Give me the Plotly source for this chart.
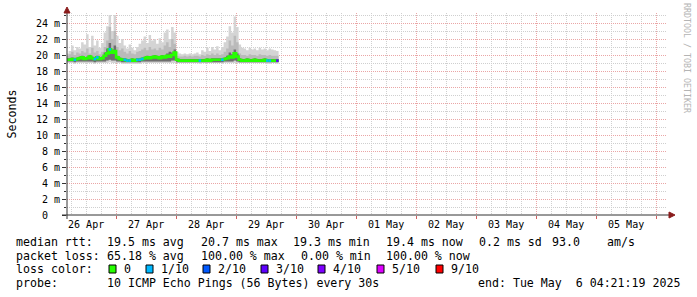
import pandas as pd
import plotly.graph_objects as go

# ---------------- data (hourly consolidated, ms) ----------------
START = "2025-04-26 04:00"
RANGE_START = "2025-04-26 04:21:19"
RANGE_END = "2025-05-06 04:21:19"

median_ms = [19.4, 19.4, 19.5, 19.4, 19.5, 19.6, 19.7, 19.5, 19.6, 19.8, 19.6, 19.5, 19.7, 19.5, 19.6,
             19.9, 20.2, 20.7, 20.3, 20.5,
             19.7, 19.5, 19.4, 19.4, 19.3, 19.3, 19.4, 19.3, 19.4, 19.4, 19.5,
             19.6, 19.7, 19.6, 19.7, 19.8, 19.7, 19.6, 19.8, 19.7, 19.9, 19.8, 20.0, 20.3,
             19.4, 19.3, 19.3, 19.3, 19.3, 19.3, 19.3, 19.3, 19.3, 19.3, 19.3, 19.3, 19.4, 19.3, 19.4, 19.4, 19.4, 19.4, 19.4, 19.5,
             19.6, 19.8, 19.7, 20.2, 19.8,
             19.4, 19.3, 19.3, 19.4, 19.3, 19.3, 19.4, 19.3, 19.3, 19.3, 19.4, 19.3, 19.3, 19.3, 19.3, 19.3]

loss = [0, 0, 0, 1, 0, 0, 0, 0, 0, 0, 0, 1, 1, 0, 0,
        0, 0, 1, 0, 0,
        0, 0, 0, 1, 1, 1, 0, 0, 1, 1, 1,
        0, 0, 0, 0, 0, 0, 0, 0, 0, 0, 0, 0, 0,
        0, 0, 0, 0, 0, 0, 0, 0, 0, 1, 0, 0, 0, 0, 0, 0, 0, 0, 1, 0,
        0, 0, 0, 0, 0,
        0, 0, 0, 0, 0, 0, 0, 0, 0, 0, 0, 1, 1, 0, 0, 3]

smoke_max = [20.2, 20.5, 21.2, 20.6, 21.0, 20.8, 21.6, 21.3, 22.6, 21.0, 22.4, 21.2, 21.8, 20.9, 21.5,
             22.8, 23.6, 25.0, 23.0, 25.0,
             22.4, 21.5, 22.0, 21.2, 20.8, 21.3, 20.9, 20.6, 21.0, 21.4, 21.8,
             22.3, 21.5, 22.5, 21.8, 22.0, 21.4, 22.1, 21.6, 22.8, 23.2, 22.0, 23.5, 22.8,
             20.4, 20.2, 20.1, 20.2, 20.1, 20.2, 20.1, 20.2, 20.3, 20.1, 20.6, 20.4, 20.9, 20.5, 21.0, 20.7, 21.1, 20.6, 21.0, 21.6,
             22.3, 23.6, 22.8, 24.8, 23.5,
             21.3, 20.9, 20.8, 20.6, 20.9, 20.7, 20.8, 20.6, 20.9, 20.7, 20.8, 20.6, 20.8, 20.7, 20.6, 20.5]

smoke_q3 = [19.9, 20.1, 20.4, 20.0, 20.3, 20.2, 20.5, 20.3, 20.8, 20.2, 20.9, 20.3, 20.5, 20.1, 20.4,
            21.0, 21.8, 23.5, 22.0, 23.0,
            21.0, 20.6, 20.8, 20.4, 20.2, 20.5, 20.2, 20.1, 20.4, 20.5, 20.7,
            20.9, 20.6, 21.0, 20.7, 20.8, 20.6, 20.9, 20.7, 21.2, 21.6, 21.0, 22.0, 21.4,
            19.9, 19.8, 19.8, 19.9, 19.8, 19.9, 19.8, 19.9, 19.9, 19.8, 20.0, 19.9, 20.1, 20.0, 20.2, 20.0, 20.2, 20.0, 20.1, 20.4,
            20.8, 21.8, 21.2, 22.4, 21.6,
            20.2, 20.0, 20.0, 19.9, 20.1, 20.0, 20.0, 19.9, 20.1, 20.0, 20.0, 19.9, 20.0, 19.9, 19.9, 19.9]

smoke_core = [19.6, 19.6, 19.7, 19.6, 19.7, 19.8, 19.9, 19.7, 19.8, 20.0, 19.8, 19.7, 19.9, 19.7, 19.8,
              20.3, 20.8, 21.5, 20.7, 21.2,
              19.9, 19.7, 19.6, 19.6, 19.5, 19.5, 19.6, 19.5, 19.6, 19.6, 19.7,
              19.8, 19.9, 19.8, 19.9, 20.0, 19.9, 19.8, 20.0, 19.9, 20.2, 20.4, 20.3, 20.7,
              19.6, 19.5, 19.5, 19.5, 19.5, 19.5, 19.5, 19.5, 19.5, 19.5, 19.5, 19.5, 19.6, 19.5, 19.6, 19.6, 19.6, 19.6, 19.6, 19.7,
              19.9, 20.3, 20.1, 20.7, 20.2,
              19.6, 19.5, 19.5, 19.6, 19.5, 19.5, 19.6, 19.5, 19.5, 19.5, 19.6, 19.5, 19.5, 19.5, 19.5, 19.5]

smoke_q1 = [19.2, 19.2, 19.2, 19.1, 19.2, 19.2, 19.2, 19.2, 19.2, 19.2, 19.2, 19.1, 19.2, 19.2, 19.2,
            19.2, 19.3, 19.4, 19.3, 19.3,
            19.2, 19.2, 19.1, 19.1, 19.1, 19.1, 19.1, 19.1, 19.1, 19.1, 19.2,
            19.2, 19.2, 19.2, 19.2, 19.2, 19.2, 19.2, 19.2, 19.2, 19.2, 19.2, 19.3, 19.3,
            19.1, 19.1, 19.1, 19.1, 19.1, 19.1, 19.1, 19.1, 19.1, 19.1, 19.1, 19.1, 19.1, 19.1, 19.1, 19.1, 19.1, 19.1, 19.1, 19.2,
            19.2, 19.2, 19.2, 19.3, 19.2,
            19.1, 19.1, 19.1, 19.1, 19.1, 19.1, 19.1, 19.1, 19.1, 19.1, 19.1, 19.1, 19.1, 19.1, 19.1, 19.1]

smoke_min = [19.0, 19.0, 19.0, 18.9, 19.0, 19.0, 19.0, 19.0, 19.0, 19.0, 19.0, 18.9, 19.0, 19.0, 19.0,
             19.0, 19.0, 19.1, 19.0, 19.0,
             19.0, 19.0, 18.9, 18.9, 18.9, 18.9, 18.9, 18.9, 18.9, 18.9, 19.0,
             19.0, 19.0, 19.0, 19.0, 19.0, 19.0, 19.0, 19.0, 19.0, 19.0, 19.0, 19.0, 19.0,
             19.0, 19.0, 19.0, 19.0, 19.0, 19.0, 19.0, 19.0, 19.0, 18.9, 19.0, 19.0, 19.0, 19.0, 19.0, 19.0, 19.0, 19.0, 18.9, 19.0,
             19.0, 19.0, 19.0, 19.0, 19.0,
             19.0, 19.0, 19.0, 19.0, 19.0, 19.0, 19.0, 19.0, 19.0, 19.0, 19.0, 18.9, 18.9, 19.0, 19.0, 18.9]

y_tick_vals = [0, 2, 4, 6, 8, 10, 12, 14, 16, 18, 20, 22, 24]
y_tick_text = ["0\u00a0\u00a0", "2 m", "4 m", "6 m", "8 m", "10 m", "12 m", "14 m",
               "16 m", "18 m", "20 m", "22 m", "24 m"]

day_labels = ["26 Apr", "27 Apr", "28 Apr", "29 Apr", "30 Apr",
              "01 May", "02 May", "03 May", "04 May", "05 May"]
day_label_times = ["2025-04-26 12:00", "2025-04-27 12:00", "2025-04-28 12:00", "2025-04-29 12:00",
                   "2025-04-30 12:00", "2025-05-01 12:00", "2025-05-02 12:00", "2025-05-03 12:00",
                   "2025-05-04 12:00", "2025-05-05 12:00"]

loss_labels = ["0", "1/10", "2/10", "3/10", "4/10", "5/10", "9/10"]
loss_levels = [0, 1, 2, 3, 4, 5, 9]
loss_colors = ["#26ff00", "#00b8ff", "#0059ff", "#5e00ff", "#7e00ff", "#dd00ff", "#ff0000"]

legend_rtt = ["median rtt:", "19.5 ms avg", "20.7 ms max", "19.3 ms min", "19.4 ms now",
              "0.2 ms sd", "93.0", "am/s"]
legend_loss = ["packet loss:", "65.18 % avg", "100.00 % max", "0.00 % min", "100.00 % now"]
probe_text = ["probe:", "10 ICMP Echo Pings (56 Bytes) every 30s"]
end_text = "end: Tue May  6 04:21:19 2025"

# ---------------- geometry helpers (pixel -> paper) ----------------
W, H = 697, 297
L, R, T, B = 67, 30, 13, 82
PW, PH = W - L - R, H - T - B
MONO = "DejaVu Sans Mono"


def px(x):
    return (x - L) / PW


def py(y):
    return (H - B - y) / PH


times = list(pd.date_range(START, periods=len(median_ms), freq="h"))
edges = times + [times[-1] + pd.Timedelta(hours=1)]


def step(vals):
    return list(vals) + [vals[-1]]


fig = go.Figure()

bands = [(smoke_min, smoke_max, "#d4d4d4"),
         (smoke_q1, smoke_q3, "#bababa"),
         (smoke_q1, smoke_core, "#6e6e6e")]
for lo, hi, col in bands:
    fig.add_trace(go.Scatter(x=edges, y=step(lo), mode="lines", line=dict(width=0, shape="hv"),
                             hoverinfo="skip", showlegend=False))
    fig.add_trace(go.Scatter(x=edges, y=step(hi), mode="lines", line=dict(width=0, shape="hv"),
                             fill="tonexty", fillcolor=col, hoverinfo="skip", showlegend=False))

# median line (base colour = no loss)
fig.add_trace(go.Scatter(x=edges, y=step(median_ms), mode="lines",
                         line=dict(color=loss_colors[0], width=2.6, shape="hv"),
                         hoverinfo="skip", showlegend=False))
# loss coloured segments
for lvl, col in zip(loss_levels[1:], loss_colors[1:]):
    xs, ys = [], []
    for i, (m, l) in enumerate(zip(median_ms, loss)):
        if l == lvl:
            xs += [edges[i], edges[i + 1], None]
            ys += [m, m, None]
    if xs:
        fig.add_trace(go.Scatter(x=xs, y=ys, mode="lines", line=dict(color=col, width=2.6),
                                 hoverinfo="skip", showlegend=False))

# invisible trace for the label axis
fig.add_trace(go.Scatter(x=day_label_times, y=[0] * len(day_label_times), xaxis="x2",
                         mode="markers", marker=dict(opacity=0), hoverinfo="skip", showlegend=False))

MGRID = "#eaa6a6"
GRID = "#cfcfcf"

fig.update_layout(
    width=W, height=H,
    margin=dict(l=L, r=R, t=T, b=B, pad=0),
    paper_bgcolor="white", plot_bgcolor="white",
    showlegend=False,
    xaxis=dict(type="date", range=[RANGE_START, RANGE_END],
               showgrid=True, gridcolor=MGRID, griddash="1px,1px", gridwidth=1,
               tick0="2025-04-27", dtick=86400000, showticklabels=False,
               ticks="outside", ticklen=3, tickcolor="#d06060",
               zeroline=False, showline=False,
               minor=dict(tick0="2025-04-26", dtick=6 * 3600000, showgrid=True,
                          gridcolor=GRID, griddash="1px,1px", gridwidth=1)),
    xaxis2=dict(type="date", range=[RANGE_START, RANGE_END], overlaying="x", anchor="y",
                side="bottom", tickmode="array", tickvals=day_label_times, ticktext=day_labels,
                showgrid=False, zeroline=False, showline=False, ticks="",
                ticklabelstandoff=2,
                tickfont=dict(family=MONO, size=10, color="#000")),
    yaxis=dict(range=[0, 25.25], tickmode="array", tickvals=y_tick_vals, ticktext=y_tick_text,
               showgrid=True, gridcolor=MGRID, griddash="1px,1px", gridwidth=1,
               ticks="outside", ticklen=4, tickcolor="#333",
               zeroline=False, showline=False,
               tickfont=dict(family=MONO, size=10, color="#000"),
               minor=dict(dtick=1, showgrid=True, gridcolor=GRID, griddash="1px,1px",
                          ticks="outside", ticklen=2, tickcolor="#333")),
)

shapes = []
AX = "#333333"
ARROW = "#8a1c1c"
shapes.append(dict(type="line", xref="paper", yref="paper", x0=px(62), x1=px(670), y0=py(215), y1=py(215),
                   line=dict(color=AX, width=1)))
shapes.append(dict(type="line", xref="paper", yref="paper", x0=px(67), x1=px(67), y0=py(219), y1=py(12),
                   line=dict(color=AX, width=1)))
shapes.append(dict(type="path", xref="paper", yref="paper",
                   path=f"M {px(669)},{py(212)} L {px(675)},{py(215)} L {px(669)},{py(218)} Z",
                   fillcolor=ARROW, line=dict(color=ARROW, width=1)))
shapes.append(dict(type="path", xref="paper", yref="paper",
                   path=f"M {px(64)},{py(13)} L {px(67)},{py(7)} L {px(70)},{py(13)} Z",
                   fillcolor=ARROW, line=dict(color=ARROW, width=1)))

annotations = []


def txt(x, y, s, size=11.6, xanchor="left", color="#000", angle=0, family=MONO):
    annotations.append(dict(xref="paper", yref="paper", x=px(x), y=py(y), text=s.replace(" ", "\u00a0"),
                            showarrow=False, xanchor=xanchor, yanchor="middle", textangle=angle,
                            font=dict(family=family, size=size, color=color), borderpad=0))


# legend rows
rtt_x = [16, 107, 200.7, 293, 386, 479, 552, 607]
for s, x in zip(legend_rtt, rtt_x):
    txt(x - 1, 241.8, s)
loss_x = [16, 107, 200.7, 300.7, 386]
for s, x in zip(legend_loss, loss_x):
    txt(x - 1, 255.5, s)
txt(15, 269.3, "loss color:")
sq_x = [109, 146, 203, 261, 318, 377, 436]
for s, col, x in zip(loss_labels, loss_colors, sq_x):
    shapes.append(dict(type="rect", xref="paper", yref="paper", x0=px(x), x1=px(x + 7), y0=py(273), y1=py(265),
                       fillcolor=col, line=dict(color="#000", width=1)))
    txt(x + 13.5, 269.3, s)
txt(15, 283, probe_text[0])
txt(106, 283, probe_text[1])
txt(681, 283, end_text, xanchor="right")

# y title and credit
txt(11.5, 114, "Seconds", angle=-90, xanchor="center")
txt(687, 58, "RRDTOOL / TOBI OETIKER", size=8.3, xanchor="center", color="#b4b4b4", angle=90)

fig.update_layout(shapes=shapes, annotations=annotations)
fig.write_html("out.html")
